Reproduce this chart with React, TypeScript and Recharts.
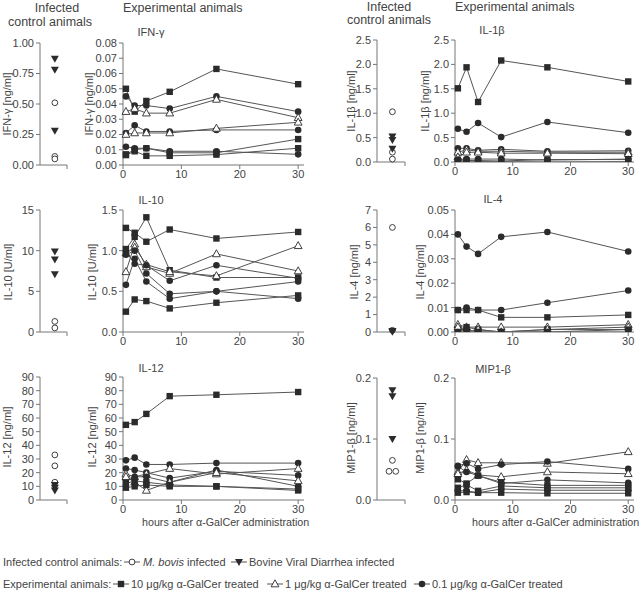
import React from 'react';
import { LineChart, Line, XAxis, YAxis, ScatterChart, Scatter } from 'recharts';

const FONT = '"Liberation Sans", Arial, sans-serif';
const INK = '#2b2b2b';
const LINE = '#555';
const AXIS = '#777';
const TXT = '#444';

// ---------- data ----------
const hours = [0.5, 2, 4, 8, 16, 30];
const hourTicks = [0, 10, 20, 30];

type Grp = 'sq' | 'tri' | 'dot';
interface Animal { g: Grp; v: number[] }

const ifnAnimals: Animal[] = [
  { g: 'sq', v: [0.050, 0.035, 0.042, 0.048, 0.063, 0.053] },
  { g: 'dot', v: [0.045, 0.039, 0.039, 0.037, 0.045, 0.035] },
  { g: 'tri', v: [0.035, 0.037, 0.034, 0.034, 0.043, 0.031] },
  { g: 'dot', v: [0.021, 0.026, 0.022, 0.022, 0.023, 0.023] },
  { g: 'tri', v: [0.020, 0.021, 0.021, 0.021, 0.024, 0.028] },
  { g: 'dot', v: [0.012, 0.011, 0.011, 0.009, 0.009, 0.007] },
  { g: 'sq', v: [0.007, 0.010, 0.011, 0.008, 0.008, 0.017] },
  { g: 'sq', v: [0.0065, 0.009, 0.006, 0.006, 0.0068, 0.011] },
];
const il1Animals: Animal[] = [
  { g: 'sq', v: [1.51, 1.94, 1.23, 2.08, 1.94, 1.65] },
  { g: 'dot', v: [0.68, 0.62, 0.80, 0.51, 0.82, 0.60] },
  { g: 'dot', v: [0.28, 0.28, 0.24, 0.26, 0.22, 0.23] },
  { g: 'tri', v: [0.20, 0.25, 0.22, 0.22, 0.20, 0.20] },
  { g: 'tri', v: [0.10, 0.20, 0.20, 0.18, 0.18, 0.17] },
  { g: 'dot', v: [0.05, 0.06, 0.06, 0.06, 0.04, 0.06] },
  { g: 'sq', v: [0.02, 0.03, 0.03, 0.02, 0.05, 0.05] },
  { g: 'sq', v: [0.01, 0.02, 0.01, 0.01, 0.00, 0.01] },
];
const il10Animals: Animal[] = [
  { g: 'sq', v: [1.28, 1.22, 1.11, 1.26, 1.15, 1.23] },
  { g: 'sq', v: [1.02, 1.17, 1.41, 0.76, 0.67, 0.67] },
  { g: 'sq', v: [0.25, 0.40, 0.38, 0.29, 0.36, 0.45] },
  { g: 'tri', v: [0.74, 1.08, 0.80, 0.72, 0.96, 0.75] },
  { g: 'tri', v: [0.97, 1.04, 0.83, 0.74, 0.69, 1.06] },
  { g: 'dot', v: [0.95, 1.00, 0.72, 0.47, 0.50, 0.62] },
  { g: 'dot', v: [0.58, 0.90, 0.62, 0.41, 0.50, 0.41] },
  { g: 'dot', v: [0.99, 0.84, 0.82, 0.63, 0.82, 0.66] },
];
const il4Animals: Animal[] = [
  { g: 'dot', v: [0.040, 0.035, 0.032, 0.039, 0.041, 0.033] },
  { g: 'dot', v: [0.009, 0.010, 0.009, 0.009, 0.012, 0.017] },
  { g: 'sq', v: [0.009, 0.009, 0.009, 0.006, 0.006, 0.007] },
  { g: 'tri', v: [0.003, 0.002, 0.002, 0.002, 0.002, 0.003] },
  { g: 'sq', v: [0.001, 0.002, 0.001, 0.000, 0.001, 0.001] },
  { g: 'tri', v: [0.002, 0.000, 0.001, 0.000, 0.001, 0.002] },
  { g: 'dot', v: [0.000, 0.001, 0.000, 0.000, 0.000, 0.001] },
  { g: 'sq', v: [0.000, 0.000, 0.000, 0.000, 0.000, 0.000] },
];
const il12Animals: Animal[] = [
  { g: 'sq', v: [55, 57, 63, 76, 77, 79] },
  { g: 'dot', v: [29, 31, 26, 26, 27, 27] },
  { g: 'dot', v: [23, 22, 20, 16, 21, 18] },
  { g: 'tri', v: [19, 17, 19, 23, 19, 23] },
  { g: 'dot', v: [15, 17, 17, 13, 22, 10] },
  { g: 'tri', v: [17, 13, 7, 13, 20, 14] },
  { g: 'sq', v: [9, 10, 11, 10, 10, 7] },
  { g: 'sq', v: [12, 14, 13, 11, 10, 8] },
];
const mipAnimals: Animal[] = [
  { g: 'tri', v: [0.046, 0.066, 0.061, 0.061, 0.060, 0.079] },
  { g: 'dot', v: [0.056, 0.060, 0.051, 0.058, 0.063, 0.051] },
  { g: 'tri', v: [0.043, 0.049, 0.041, 0.038, 0.046, 0.043] },
  { g: 'dot', v: [0.055, 0.046, 0.040, 0.027, 0.033, 0.028] },
  { g: 'sq', v: [0.034, 0.027, 0.040, 0.029, 0.024, 0.024] },
  { g: 'sq', v: [0.020, 0.025, 0.015, 0.023, 0.020, 0.020] },
  { g: 'dot', v: [0.015, 0.015, 0.012, 0.018, 0.016, 0.016] },
  { g: 'sq', v: [0.012, 0.013, 0.012, 0.012, 0.011, 0.011] },
];

// infected control animals
const ifnBovis = [0.51, 0.07, 0.05];
const ifnBVD = [0.87, 0.78, 0.28];
const il1Bovis = [1.03, 0.20, 0.06];
const il1BVD = [0.52, 0.45, 0.27];
const il10Bovis = [1.3, 0.5];
const il10BVD = [9.9, 8.9, 7.1];
const il4Bovis = [6.0, 0.1];
const il4BVD = [0.06, 0.02];
const il12Bovis = [33, 25, 13];
const il12BVD = [11, 9, 7];
const mipBovis = [0.065, 0.047, 0.047];
const mipBVD = [0.18, 0.17, 0.10];

// axis ticks
const ifnTicks = [0, 0.01, 0.02, 0.03, 0.04, 0.05, 0.06, 0.07, 0.08];
const ifnCtrlTicks = [0, 0.25, 0.5, 0.75, 1.0];
const il1Ticks = [0, 0.5, 1.0, 1.5, 2.0, 2.5];
const il10Ticks = [0, 0.5, 1.0, 1.5];
const il10CtrlTicks = [0, 5, 10, 15];
const il4Ticks = [0, 0.01, 0.02, 0.03, 0.04, 0.05];
const il4CtrlTicks = [0, 1, 2, 3, 4, 5, 6, 7];
const il12Ticks = [0, 10, 20, 30, 40, 50, 60, 70, 80, 90];
const mipTicks = [0, 0.1, 0.2];

// ---------- markers ----------
type Mk = Grp | 'circ' | 'tdown';
function marker(g: Mk, cx: number, cy: number, key: string) {
  if (cx == null || cy == null || isNaN(cx) || isNaN(cy)) return <g key={key} />;
  switch (g) {
    case 'sq':
      return <rect key={key} x={cx - 3.2} y={cy - 3.2} width={6.4} height={6.4} fill={INK} />;
    case 'dot':
      return <circle key={key} cx={cx} cy={cy} r={3.3} fill={INK} />;
    case 'tri':
      return (
        <polygon key={key} points={`${cx},${cy - 4.2} ${cx + 3.9},${cy + 2.8} ${cx - 3.9},${cy + 2.8}`}
          fill="#fff" stroke={INK} strokeWidth={0.9} />
      );
    case 'circ':
      return <circle key={key} cx={cx} cy={cy} r={2.9} fill="#fff" stroke={INK} strokeWidth={0.9} />;
    case 'tdown':
    default:
      return (
        <polygon key={key} points={`${cx - 4},${cy - 3} ${cx + 4},${cy - 3} ${cx},${cy + 4}`} fill={INK} />
      );
  }
}

const tickStyle = { fontSize: 11, fill: TXT, fontFamily: FONT };

// ---------- panels ----------
interface ExpProps {
  px: number; py: number; pw: number; ph: number;
  domain: [number, number]; ticks: number[]; digits: number; animals: Animal[];
}
function ExpPanel({ px, py, pw, ph, domain, ticks, digits, animals }: ExpProps) {
  const yw = 46, mt = 10, mr = 6, xh = 24;
  const data = hours.map((t, i) => {
    const row: Record<string, number> = { t };
    animals.forEach((a, j) => { row['a' + j] = a.v[i]; });
    return row;
  });
  return (
    <div style={{ position: 'absolute', left: px - yw, top: py - mt }}>
      <LineChart width={yw + pw + mr} height={mt + ph + xh} data={data}
        margin={{ top: mt, right: mr, bottom: 0, left: 0 }}>
        <XAxis dataKey="t" type="number" domain={[0, 31]} ticks={hourTicks} height={xh}
          tick={tickStyle} tickSize={4} tickMargin={1} axisLine={{ stroke: AXIS }} tickLine={{ stroke: AXIS }} />
        <YAxis type="number" domain={domain} ticks={ticks} width={yw} interval={0}
          tickFormatter={(v: number) => v.toFixed(digits)} tick={tickStyle} tickSize={4} tickMargin={2}
          axisLine={{ stroke: AXIS }} tickLine={{ stroke: AXIS }} allowDataOverflow />
        {animals.map((a, j) => (
          <Line key={j} dataKey={'a' + j} type="linear" stroke={LINE} strokeWidth={1}
            isAnimationActive={false} activeDot={false}
            dot={(p: any) => marker(a.g, p.cx, p.cy, `m${j}-${p.index}`)} />
        ))}
      </LineChart>
    </div>
  );
}

function spread(vals: number[]) {
  return vals.map((v, i) => {
    const same = vals.map((w, k) => (w === v ? k : -1)).filter((k) => k >= 0);
    if (same.length < 2) return { x: 0.55, y: v };
    const pos = same.indexOf(i);
    return { x: 0.55 + (pos - (same.length - 1) / 2) * 0.24, y: v };
  });
}

interface CtrlProps {
  px: number; py: number; pw: number; ph: number;
  domain: [number, number]; ticks: number[]; digits: number; bovis: number[]; bvd: number[];
}
function CtrlPanel({ px, py, pw, ph, domain, ticks, digits, bovis, bvd }: CtrlProps) {
  const yw = 42, mt = 10, mr = 4, xh = 10;
  return (
    <div style={{ position: 'absolute', left: px - yw, top: py - mt }}>
      <ScatterChart width={yw + pw + mr} height={mt + ph + xh} margin={{ top: mt, right: mr, bottom: 0, left: 0 }}>
        <XAxis dataKey="x" type="number" domain={[0, 1]} ticks={[1]} height={xh} tickFormatter={() => ''}
          tickSize={4} axisLine={{ stroke: AXIS }} tickLine={{ stroke: AXIS }} />
        <YAxis dataKey="y" type="number" domain={domain} ticks={ticks} width={yw} interval={0}
          tickFormatter={(v: number) => v.toFixed(digits)} tick={tickStyle} tickSize={4} tickMargin={2}
          axisLine={{ stroke: AXIS }} tickLine={{ stroke: AXIS }} />
        <Scatter data={spread(bovis)} isAnimationActive={false}
          shape={(p: any) => marker('circ', p.cx, p.cy, `c${p.index}`)} />
        <Scatter data={spread(bvd)} isAnimationActive={false}
          shape={(p: any) => marker('tdown', p.cx, p.cy, `t${p.index}`)} />
      </ScatterChart>
    </div>
  );
}

function VLabel({ cx, cy, children }: { cx: number; cy: number; children: React.ReactNode }) {
  return (
    <div style={{
      position: 'absolute', left: cx, top: cy, transform: 'translate(-50%, -50%) rotate(-90deg)',
      whiteSpace: 'nowrap', fontSize: 11, color: TXT, fontFamily: FONT, lineHeight: 1,
    }}>{children}</div>
  );
}
function Txt({ x, y, size, children, center }: { x: number; y: number; size: number; children: React.ReactNode; center?: boolean }) {
  return (
    <div style={{
      position: 'absolute', left: x, top: y, transform: center ? 'translate(-50%, -50%)' : 'translate(0, -50%)',
      whiteSpace: 'nowrap', fontSize: size, color: TXT, fontFamily: FONT, lineHeight: 1,
    }}>{children}</div>
  );
}
function LegMark({ x, y, g }: { x: number; y: number; g: Mk }) {
  return (
    <svg style={{ position: 'absolute', left: x, top: y - 6 }} width={16} height={12}>
      <line x1={0} y1={6} x2={16} y2={6} stroke={LINE} strokeWidth={1} />
      {marker(g, 8, 6, 'k')}
    </svg>
  );
}

export default function App() {
  return (
    <div style={{ position: 'absolute', left: 0, top: 0, width: 640, height: 595, background: '#fff', overflow: 'hidden', fontFamily: FONT }}>
      {/* headers */}
      <Txt x={57} y={8} size={12.5} center>Infected</Txt>
      <Txt x={50} y={22} size={12.5} center>control animals</Txt>
      <Txt x={123} y={8} size={12.5}>Experimental animals</Txt>
      <Txt x={389} y={7} size={12.5} center>Infected</Txt>
      <Txt x={389} y={20} size={12.5} center>control animals</Txt>
      <Txt x={455} y={7} size={12.5}>Experimental animals</Txt>

      {/* titles */}
      <Txt x={151} y={32} size={11} center>IFN-γ</Txt>
      <Txt x={492} y={30} size={11} center>IL-1β</Txt>
      <Txt x={151} y={200} size={11} center>IL-10</Txt>
      <Txt x={493} y={199} size={11} center>IL-4</Txt>
      <Txt x={151} y={368} size={11} center>IL-12</Txt>
      <Txt x={493} y={369} size={11} center>MIP1-β</Txt>

      {/* row 1 */}
      <CtrlPanel px={40} py={43} pw={27} ph={122} domain={[0, 1]} ticks={ifnCtrlTicks} digits={2} bovis={ifnBovis} bvd={ifnBVD} />
      <ExpPanel px={123} py={43} pw={181} ph={122} domain={[0, 0.08]} ticks={ifnTicks} digits={2} animals={ifnAnimals} />
      <CtrlPanel px={377} py={40} pw={28} ph={122} domain={[0, 2.5]} ticks={il1Ticks} digits={1} bovis={il1Bovis} bvd={il1BVD} />
      <ExpPanel px={455} py={40} pw={179} ph={122} domain={[0, 2.5]} ticks={il1Ticks} digits={1} animals={il1Animals} />

      {/* row 2 */}
      <CtrlPanel px={40} py={210} pw={27} ph={122} domain={[0, 15]} ticks={il10CtrlTicks} digits={0} bovis={il10Bovis} bvd={il10BVD} />
      <ExpPanel px={123} py={210} pw={181} ph={122} domain={[0, 1.5]} ticks={il10Ticks} digits={1} animals={il10Animals} />
      <CtrlPanel px={377} py={210} pw={28} ph={122} domain={[0, 7]} ticks={il4CtrlTicks} digits={0} bovis={il4Bovis} bvd={il4BVD} />
      <ExpPanel px={455} py={210} pw={179} ph={122} domain={[0, 0.05]} ticks={il4Ticks} digits={2} animals={il4Animals} />

      {/* row 3 */}
      <CtrlPanel px={40} py={377} pw={27} ph={123} domain={[0, 90]} ticks={il12Ticks} digits={0} bovis={il12Bovis} bvd={il12BVD} />
      <ExpPanel px={123} py={377} pw={181} ph={123} domain={[0, 90]} ticks={il12Ticks} digits={0} animals={il12Animals} />
      <CtrlPanel px={377} py={378} pw={28} ph={122} domain={[0, 0.2]} ticks={mipTicks} digits={1} bovis={mipBovis} bvd={mipBVD} />
      <ExpPanel px={455} py={378} pw={179} ph={122} domain={[0, 0.2]} ticks={mipTicks} digits={1} animals={mipAnimals} />

      {/* y-axis titles */}
      <VLabel cx={7} cy={104}>IFN-γ [ng/ml]</VLabel>
      <VLabel cx={89} cy={104}>IFN-γ [ng/ml]</VLabel>
      <VLabel cx={351} cy={101}>IL-1β [ng/ml]</VLabel>
      <VLabel cx={425} cy={101}>IL-1β [ng/ml]</VLabel>
      <VLabel cx={8} cy={272}>IL-10 [U/ml]</VLabel>
      <VLabel cx={92} cy={272}>IL-10 [U/ml]</VLabel>
      <VLabel cx={354} cy={272}>IL-4 [ng/ml]</VLabel>
      <VLabel cx={420} cy={272}>IL-4 [ng/ml]</VLabel>
      <VLabel cx={7} cy={437}>IL-12 [ng/ml]</VLabel>
      <VLabel cx={92} cy={437}>IL-12 [ng/ml]</VLabel>
      <VLabel cx={351} cy={438}>MIP1-β [ng/ml]</VLabel>
      <VLabel cx={420} cy={438}>MIP1-β [ng/ml]</VLabel>

      {/* x-axis titles */}
      <Txt x={142} y={522} size={10.7}>hours after α-GalCer administration</Txt>
      <Txt x={472} y={522} size={10.7}>hours after α-GalCer administration</Txt>

      {/* legend */}
      <Txt x={3} y={562} size={11}>Infected control animals:</Txt>
      <LegMark x={124} y={562} g="circ" />
      <Txt x={143} y={562} size={11}><i>M. bovis</i> infected</Txt>
      <LegMark x={231} y={562} g="tdown" />
      <Txt x={249} y={562} size={11}>Bovine Viral Diarrhea infected</Txt>

      <Txt x={3} y={584} size={11}>Experimental animals:</Txt>
      <LegMark x={113} y={584} g="sq" />
      <Txt x={131} y={584} size={11}>10 μg/kg α-GalCer treated</Txt>
      <LegMark x={267} y={584} g="tri" />
      <Txt x={285} y={584} size={11}>1 μg/kg α-GalCer treated</Txt>
      <LegMark x={414} y={584} g="dot" />
      <Txt x={432} y={584} size={11}>0.1 μg/kg α-GalCer treated</Txt>
    </div>
  );
}
